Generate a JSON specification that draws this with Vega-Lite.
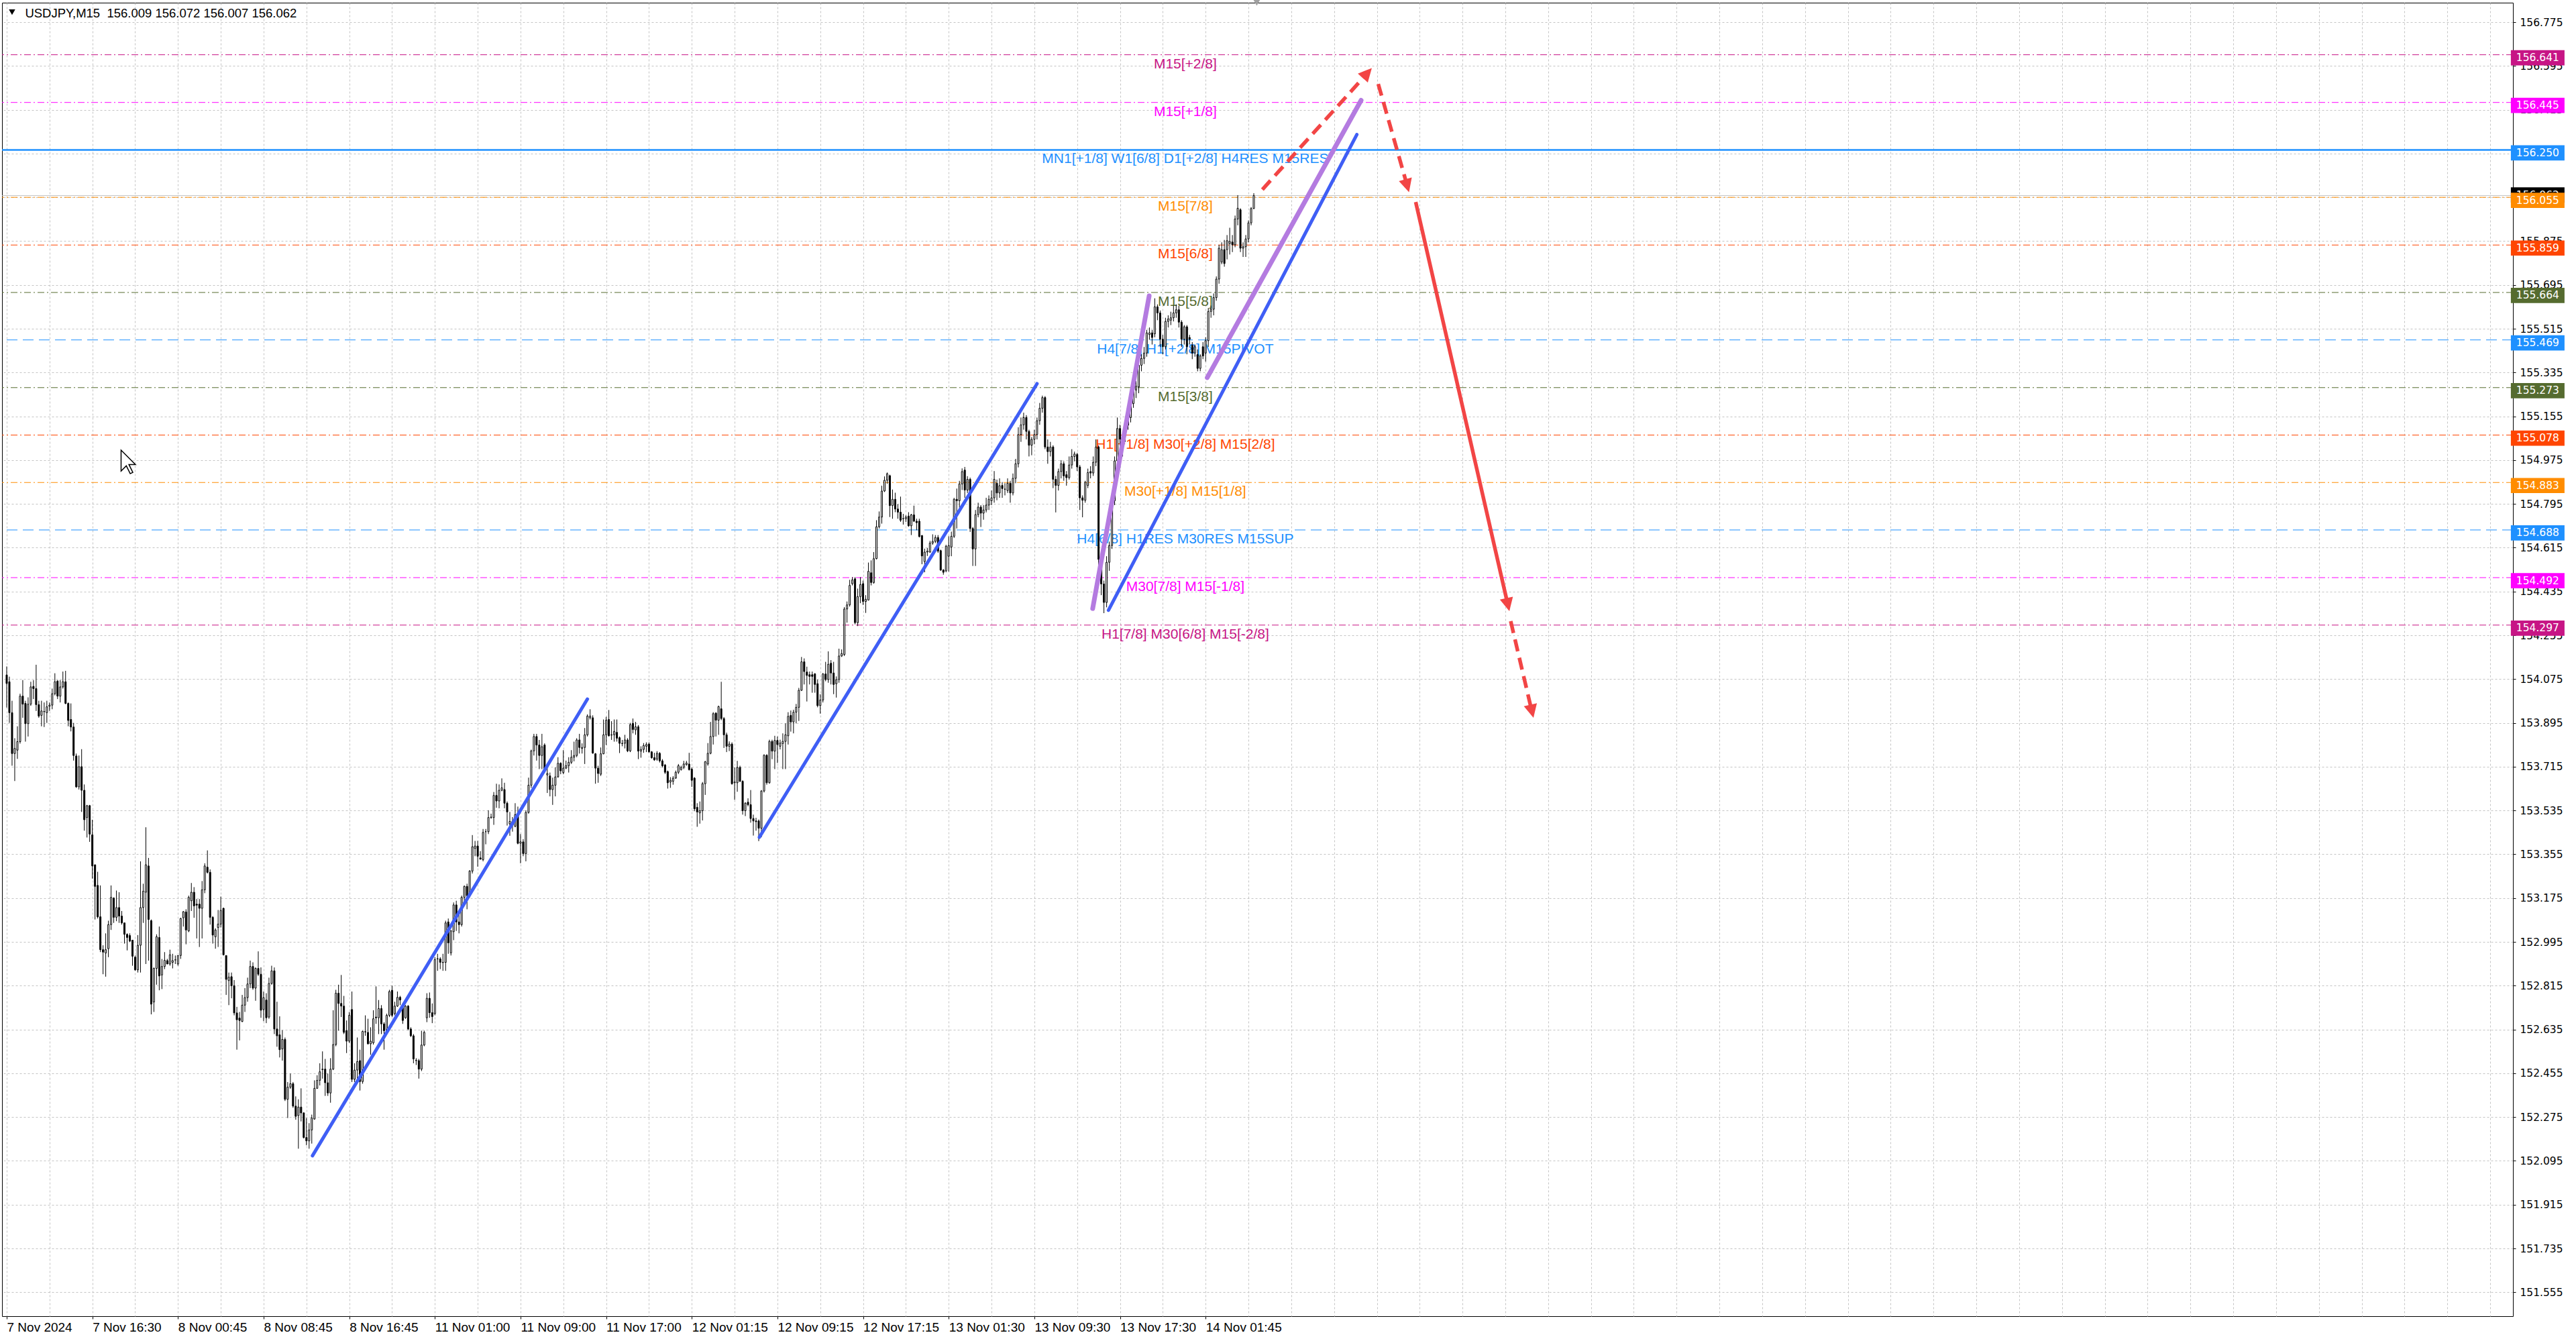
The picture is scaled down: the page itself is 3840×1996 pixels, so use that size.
{
"$schema": "https://vega.github.io/schema/vega-lite/v6.json",
"width": 3743, "height": 1958,
"autosize": {"type": "none"},
"padding": {"left": 3, "top": 4, "right": 94, "bottom": 34},
"background": "#ffffff",
"config": {"view": {"stroke": "#000000", "strokeWidth": 1}},
"datasets": {
"levels": [
{"p":156.641,"name":"M15[+2/8]"},
{"p":156.445,"name":"M15[+1/8]"},
{"p":156.25,"name":"MN1[+1/8] W1[6/8] D1[+2/8] H4RES M15RES"},
{"p":156.055,"name":"M15[7/8]"},
{"p":155.859,"name":"M15[6/8]"},
{"p":155.664,"name":"M15[5/8]"},
{"p":155.469,"name":"H4[7/8] H1[+2/8] M15PIVOT"},
{"p":155.273,"name":"M15[3/8]"},
{"p":155.078,"name":"H1[+1/8] M30[+2/8] M15[2/8]"},
{"p":154.883,"name":"M30[+1/8] M15[1/8]"},
{"p":154.688,"name":"H4[6/8] H1RES M30RES M15SUP"},
{"p":154.492,"name":"M30[7/8] M15[-1/8]"},
{"p":154.297,"name":"H1[7/8] M30[6/8] M15[-2/8]"}
],
"blue": [
{"id":"b1","i":114.25,"p":152.116},{"id":"b1","i":217,"p":153.993},
{"id":"b2","i":281.25,"p":153.425},{"id":"b2","i":385,"p":155.289},
{"id":"b3","i":411.7,"p":154.358},{"id":"b3","i":504.5,"p":156.313}
],
"purple": [
{"id":"u1","i":405.8,"p":154.365},{"id":"u1","i":426.9,"p":155.65},
{"id":"u2","i":448.6,"p":155.314},{"id":"u2","i":506.1,"p":156.454}
],
"reddash": [
{"id":"r1","i":469.2,"p":156.087},{"id":"r1","i":508.1,"p":156.561},
{"id":"r2","i":512.5,"p":156.521},{"id":"r2","i":523.2,"p":156.108},
{"id":"r4","i":562,"p":154.313},{"id":"r4","i":569.8,"p":153.948}
],
"redsolid": [
{"id":"r3","i":526.5,"p":156.036},{"id":"r3","i":560.8,"p":154.387}
],
"heads": [
{"id":"a1","i":510.1,"p":156.586},
{"id":"a2","i":524,"p":156.076},
{"id":"a3","i":561.5,"p":154.354},
{"id":"a4","i":570.5,"p":153.916}
],
"bars": [
{"i":0,"o":154.092,"h":154.127,"l":153.958,"c":154.057},
{"i":1,"o":154.064,"h":154.085,"l":153.895,"c":153.937},
{"i":2,"o":153.937,"h":153.986,"l":153.719,"c":153.769},
{"i":3,"o":153.769,"h":153.832,"l":153.656,"c":153.790},
{"i":4,"o":153.783,"h":153.881,"l":153.747,"c":153.818},
{"i":5,"o":153.818,"h":154.015,"l":153.810,"c":154.005},
{"i":6,"o":154.005,"h":154.071,"l":153.916,"c":153.972},
{"i":7,"o":153.975,"h":153.986,"l":153.818,"c":153.892},
{"i":8,"o":153.892,"h":154.000,"l":153.839,"c":153.972},
{"i":9,"o":153.972,"h":154.064,"l":153.965,"c":154.043},
{"i":10,"o":154.045,"h":154.071,"l":153.993,"c":154.036},
{"i":11,"o":154.036,"h":154.134,"l":153.944,"c":153.970},
{"i":12,"o":153.970,"h":153.986,"l":153.916,"c":153.923},
{"i":13,"o":153.926,"h":153.986,"l":153.881,"c":153.944},
{"i":14,"o":153.941,"h":153.979,"l":153.878,"c":153.942},
{"i":15,"o":153.937,"h":153.986,"l":153.895,"c":153.961},
{"i":16,"o":153.963,"h":153.979,"l":153.944,"c":153.968},
{"i":17,"o":153.968,"h":154.036,"l":153.951,"c":154.015},
{"i":18,"o":154.015,"h":154.099,"l":154.008,"c":154.064},
{"i":19,"o":154.067,"h":154.071,"l":153.993,"c":154.005},
{"i":20,"o":154.005,"h":154.071,"l":153.979,"c":154.043},
{"i":21,"o":154.043,"h":154.106,"l":154.036,"c":154.064},
{"i":22,"o":154.064,"h":154.109,"l":153.972,"c":153.975},
{"i":23,"o":153.975,"h":153.979,"l":153.881,"c":153.905},
{"i":24,"o":153.909,"h":153.975,"l":153.860,"c":153.878},
{"i":25,"o":153.878,"h":153.895,"l":153.740,"c":153.761},
{"i":26,"o":153.759,"h":153.769,"l":153.628,"c":153.632},
{"i":27,"o":153.632,"h":153.761,"l":153.621,"c":153.715},
{"i":28,"o":153.715,"h":153.787,"l":153.529,"c":153.618},
{"i":29,"o":153.618,"h":153.642,"l":153.452,"c":153.497},
{"i":30,"o":153.506,"h":153.558,"l":153.424,"c":153.555},
{"i":31,"o":153.555,"h":153.558,"l":153.406,"c":153.438},
{"i":32,"o":153.435,"h":153.497,"l":153.255,"c":153.307},
{"i":33,"o":153.312,"h":153.312,"l":153.087,"c":153.223},
{"i":34,"o":153.227,"h":153.283,"l":153.091,"c":153.098},
{"i":35,"o":153.098,"h":153.227,"l":152.953,"c":152.963},
{"i":36,"o":152.963,"h":152.981,"l":152.862,"c":152.953},
{"i":37,"o":152.949,"h":153.030,"l":152.852,"c":152.963},
{"i":38,"o":152.967,"h":153.082,"l":152.932,"c":153.066},
{"i":39,"o":153.066,"h":153.227,"l":153.044,"c":153.178},
{"i":40,"o":153.175,"h":153.178,"l":153.073,"c":153.096},
{"i":41,"o":153.096,"h":153.206,"l":153.080,"c":153.136},
{"i":42,"o":153.136,"h":153.199,"l":153.073,"c":153.101},
{"i":43,"o":153.101,"h":153.122,"l":153.066,"c":153.073},
{"i":44,"o":153.073,"h":153.073,"l":152.988,"c":153.026},
{"i":45,"o":153.026,"h":153.030,"l":152.960,"c":153.013},
{"i":46,"o":153.021,"h":153.030,"l":152.995,"c":152.998},
{"i":47,"o":153.002,"h":153.002,"l":152.897,"c":152.936},
{"i":48,"o":152.932,"h":152.939,"l":152.876,"c":152.880},
{"i":49,"o":152.880,"h":153.023,"l":152.869,"c":152.981},
{"i":50,"o":152.981,"h":153.326,"l":152.869,"c":153.136},
{"i":51,"o":153.136,"h":153.234,"l":153.073,"c":153.203},
{"i":52,"o":153.199,"h":153.466,"l":152.904,"c":153.312},
{"i":53,"o":153.307,"h":153.340,"l":152.918,"c":153.087},
{"i":54,"o":153.082,"h":153.087,"l":152.697,"c":152.739},
{"i":55,"o":152.748,"h":152.890,"l":152.707,"c":152.886},
{"i":56,"o":152.886,"h":153.026,"l":152.819,"c":153.016},
{"i":57,"o":153.013,"h":153.058,"l":152.796,"c":152.855},
{"i":58,"o":152.859,"h":152.925,"l":152.801,"c":152.894},
{"i":59,"o":152.894,"h":152.953,"l":152.883,"c":152.919},
{"i":60,"o":152.918,"h":152.925,"l":152.904,"c":152.904},
{"i":61,"o":152.904,"h":152.963,"l":152.897,"c":152.942},
{"i":62,"o":152.911,"h":152.946,"l":152.886,"c":152.918},
{"i":63,"o":152.921,"h":152.939,"l":152.904,"c":152.921},
{"i":64,"o":152.904,"h":152.939,"l":152.897,"c":152.939},
{"i":65,"o":152.939,"h":153.094,"l":152.925,"c":153.091},
{"i":66,"o":153.094,"h":153.122,"l":153.058,"c":153.119},
{"i":67,"o":153.118,"h":153.129,"l":152.985,"c":153.044},
{"i":68,"o":153.040,"h":153.185,"l":153.035,"c":153.178},
{"i":69,"o":153.164,"h":153.237,"l":153.122,"c":153.199},
{"i":70,"o":153.199,"h":153.220,"l":153.094,"c":153.143},
{"i":71,"o":153.150,"h":153.171,"l":153.009,"c":153.146},
{"i":72,"o":153.150,"h":153.171,"l":152.974,"c":153.133},
{"i":73,"o":153.133,"h":153.245,"l":153.009,"c":153.209},
{"i":74,"o":153.209,"h":153.318,"l":153.195,"c":153.307},
{"i":75,"o":153.302,"h":153.371,"l":153.276,"c":153.281},
{"i":76,"o":153.281,"h":153.293,"l":153.066,"c":153.096},
{"i":77,"o":153.096,"h":153.101,"l":152.988,"c":153.023},
{"i":78,"o":153.016,"h":153.051,"l":152.967,"c":153.044},
{"i":79,"o":153.054,"h":153.126,"l":152.974,"c":153.068},
{"i":80,"o":153.068,"h":153.181,"l":153.054,"c":153.124},
{"i":81,"o":153.133,"h":153.136,"l":152.939,"c":152.942},
{"i":82,"o":152.939,"h":152.939,"l":152.777,"c":152.841},
{"i":83,"o":152.836,"h":152.869,"l":152.735,"c":152.850},
{"i":84,"o":152.852,"h":152.869,"l":152.763,"c":152.815},
{"i":85,"o":152.815,"h":152.838,"l":152.693,"c":152.703},
{"i":86,"o":152.703,"h":152.728,"l":152.552,"c":152.675},
{"i":87,"o":152.682,"h":152.707,"l":152.590,"c":152.672},
{"i":88,"o":152.668,"h":152.777,"l":152.665,"c":152.735},
{"i":89,"o":152.735,"h":152.805,"l":152.707,"c":152.766},
{"i":90,"o":152.766,"h":152.848,"l":152.749,"c":152.822},
{"i":91,"o":152.822,"h":152.918,"l":152.805,"c":152.894},
{"i":92,"o":152.894,"h":152.911,"l":152.798,"c":152.805},
{"i":93,"o":152.805,"h":152.890,"l":152.753,"c":152.886},
{"i":94,"o":152.886,"h":152.956,"l":152.855,"c":152.862},
{"i":95,"o":152.862,"h":152.890,"l":152.683,"c":152.714},
{"i":96,"o":152.717,"h":152.791,"l":152.669,"c":152.766},
{"i":97,"o":152.756,"h":152.784,"l":152.661,"c":152.683},
{"i":98,"o":152.686,"h":152.848,"l":152.679,"c":152.824},
{"i":99,"o":152.824,"h":152.897,"l":152.819,"c":152.876},
{"i":100,"o":152.876,"h":152.890,"l":152.616,"c":152.637},
{"i":101,"o":152.637,"h":152.749,"l":152.564,"c":152.609},
{"i":102,"o":152.613,"h":152.689,"l":152.520,"c":152.552},
{"i":103,"o":152.555,"h":152.632,"l":152.507,"c":152.594},
{"i":104,"o":152.594,"h":152.602,"l":152.341,"c":152.348},
{"i":105,"o":152.348,"h":152.419,"l":152.271,"c":152.398},
{"i":106,"o":152.398,"h":152.454,"l":152.391,"c":152.412},
{"i":107,"o":152.412,"h":152.419,"l":152.313,"c":152.320},
{"i":108,"o":152.320,"h":152.360,"l":152.264,"c":152.278},
{"i":109,"o":152.281,"h":152.348,"l":152.145,"c":152.316},
{"i":110,"o":152.316,"h":152.393,"l":152.257,"c":152.292},
{"i":111,"o":152.292,"h":152.295,"l":152.187,"c":152.191},
{"i":112,"o":152.191,"h":152.271,"l":152.159,"c":152.177},
{"i":113,"o":152.177,"h":152.250,"l":152.145,"c":152.222},
{"i":114,"o":152.222,"h":152.285,"l":152.166,"c":152.271},
{"i":115,"o":152.267,"h":152.426,"l":152.264,"c":152.393},
{"i":116,"o":152.393,"h":152.447,"l":152.391,"c":152.426},
{"i":117,"o":152.426,"h":152.496,"l":152.405,"c":152.461},
{"i":118,"o":152.470,"h":152.545,"l":152.433,"c":152.472},
{"i":119,"o":152.472,"h":152.514,"l":152.362,"c":152.416},
{"i":120,"o":152.416,"h":152.454,"l":152.362,"c":152.374},
{"i":121,"o":152.374,"h":152.517,"l":152.334,"c":152.472},
{"i":122,"o":152.472,"h":152.714,"l":152.468,"c":152.573},
{"i":123,"o":152.573,"h":152.798,"l":152.566,"c":152.784},
{"i":124,"o":152.784,"h":152.819,"l":152.630,"c":152.742},
{"i":125,"o":152.742,"h":152.859,"l":152.686,"c":152.731},
{"i":126,"o":152.731,"h":152.773,"l":152.616,"c":152.623},
{"i":127,"o":152.630,"h":152.672,"l":152.538,"c":152.587},
{"i":128,"o":152.587,"h":152.707,"l":152.580,"c":152.693},
{"i":129,"o":152.717,"h":152.791,"l":152.419,"c":152.430},
{"i":130,"o":152.430,"h":152.496,"l":152.419,"c":152.468},
{"i":131,"o":152.468,"h":152.602,"l":152.433,"c":152.503},
{"i":132,"o":152.507,"h":152.552,"l":152.384,"c":152.421},
{"i":133,"o":152.421,"h":152.630,"l":152.412,"c":152.627},
{"i":134,"o":152.626,"h":152.693,"l":152.609,"c":152.625},
{"i":135,"o":152.623,"h":152.679,"l":152.573,"c":152.576},
{"i":136,"o":152.576,"h":152.644,"l":152.531,"c":152.587},
{"i":137,"o":152.580,"h":152.714,"l":152.573,"c":152.679},
{"i":138,"o":152.686,"h":152.812,"l":152.658,"c":152.683},
{"i":139,"o":152.683,"h":152.756,"l":152.616,"c":152.721},
{"i":140,"o":152.721,"h":152.735,"l":152.616,"c":152.658},
{"i":141,"o":152.658,"h":152.665,"l":152.552,"c":152.630},
{"i":142,"o":152.630,"h":152.700,"l":152.616,"c":152.693},
{"i":143,"o":152.693,"h":152.798,"l":152.686,"c":152.791},
{"i":144,"o":152.796,"h":152.815,"l":152.686,"c":152.693},
{"i":145,"o":152.700,"h":152.749,"l":152.693,"c":152.731},
{"i":146,"o":152.731,"h":152.791,"l":152.728,"c":152.767},
{"i":147,"o":152.767,"h":152.773,"l":152.735,"c":152.756},
{"i":148,"o":152.735,"h":152.742,"l":152.658,"c":152.672},
{"i":149,"o":152.683,"h":152.735,"l":152.679,"c":152.731},
{"i":150,"o":152.731,"h":152.735,"l":152.632,"c":152.637},
{"i":151,"o":152.637,"h":152.644,"l":152.604,"c":152.609},
{"i":152,"o":152.609,"h":152.616,"l":152.496,"c":152.514},
{"i":153,"o":152.508,"h":152.517,"l":152.489,"c":152.507},
{"i":154,"o":152.507,"h":152.514,"l":152.433,"c":152.472},
{"i":155,"o":152.472,"h":152.630,"l":152.464,"c":152.571},
{"i":156,"o":152.571,"h":152.630,"l":152.566,"c":152.623},
{"i":157,"o":152.683,"h":152.784,"l":152.665,"c":152.763},
{"i":158,"o":152.763,"h":152.787,"l":152.683,"c":152.704},
{"i":159,"o":152.704,"h":152.742,"l":152.661,"c":152.688},
{"i":160,"o":152.700,"h":152.932,"l":152.693,"c":152.922},
{"i":161,"o":152.925,"h":152.946,"l":152.876,"c":152.926},
{"i":162,"o":152.925,"h":152.932,"l":152.883,"c":152.911},
{"i":163,"o":152.911,"h":152.946,"l":152.876,"c":152.910},
{"i":164,"o":152.911,"h":153.082,"l":152.876,"c":153.073},
{"i":165,"o":153.077,"h":153.091,"l":152.946,"c":152.991},
{"i":166,"o":152.950,"h":153.044,"l":152.939,"c":153.040},
{"i":167,"o":153.037,"h":153.157,"l":153.002,"c":153.147},
{"i":168,"o":153.147,"h":153.164,"l":153.040,"c":153.077},
{"i":169,"o":153.077,"h":153.122,"l":153.030,"c":153.066},
{"i":170,"o":153.066,"h":153.185,"l":153.058,"c":153.178},
{"i":171,"o":153.178,"h":153.227,"l":153.150,"c":153.223},
{"i":172,"o":153.223,"h":153.234,"l":153.129,"c":153.185},
{"i":173,"o":153.185,"h":153.290,"l":153.178,"c":153.286},
{"i":174,"o":153.286,"h":153.434,"l":153.276,"c":153.386},
{"i":175,"o":153.379,"h":153.410,"l":153.347,"c":153.389},
{"i":176,"o":153.389,"h":153.410,"l":153.304,"c":153.347},
{"i":177,"o":153.340,"h":153.368,"l":153.333,"c":153.335},
{"i":178,"o":153.333,"h":153.459,"l":153.326,"c":153.445},
{"i":179,"o":153.448,"h":153.459,"l":153.396,"c":153.448},
{"i":180,"o":153.448,"h":153.536,"l":153.438,"c":153.506},
{"i":181,"o":153.506,"h":153.522,"l":153.501,"c":153.508},
{"i":182,"o":153.506,"h":153.611,"l":153.476,"c":153.597},
{"i":183,"o":153.597,"h":153.645,"l":153.546,"c":153.574},
{"i":184,"o":153.574,"h":153.642,"l":153.544,"c":153.618},
{"i":185,"o":153.618,"h":153.667,"l":153.614,"c":153.628},
{"i":186,"o":153.621,"h":153.649,"l":153.544,"c":153.565},
{"i":187,"o":153.565,"h":153.572,"l":153.473,"c":153.529},
{"i":188,"o":153.480,"h":153.529,"l":153.431,"c":153.490},
{"i":189,"o":153.490,"h":153.508,"l":153.448,"c":153.480},
{"i":190,"o":153.470,"h":153.565,"l":153.466,"c":153.518},
{"i":191,"o":153.513,"h":153.551,"l":153.396,"c":153.400},
{"i":192,"o":153.400,"h":153.438,"l":153.318,"c":153.406},
{"i":193,"o":153.406,"h":153.417,"l":153.347,"c":153.358},
{"i":194,"o":153.358,"h":153.536,"l":153.326,"c":153.527},
{"i":195,"o":153.527,"h":153.670,"l":153.522,"c":153.639},
{"i":196,"o":153.639,"h":153.785,"l":153.628,"c":153.780},
{"i":197,"o":153.780,"h":153.850,"l":153.761,"c":153.839},
{"i":198,"o":153.839,"h":153.850,"l":153.740,"c":153.804},
{"i":199,"o":153.804,"h":153.825,"l":153.705,"c":153.761},
{"i":200,"o":153.761,"h":153.850,"l":153.705,"c":153.797},
{"i":201,"o":153.804,"h":153.811,"l":153.691,"c":153.698},
{"i":202,"o":153.681,"h":153.719,"l":153.607,"c":153.687},
{"i":203,"o":153.677,"h":153.691,"l":153.593,"c":153.621},
{"i":204,"o":153.621,"h":153.670,"l":153.558,"c":153.639},
{"i":205,"o":153.639,"h":153.712,"l":153.593,"c":153.673},
{"i":206,"o":153.673,"h":153.754,"l":153.670,"c":153.729},
{"i":207,"o":153.729,"h":153.733,"l":153.684,"c":153.698},
{"i":208,"o":153.691,"h":153.783,"l":153.684,"c":153.709},
{"i":209,"o":153.709,"h":153.740,"l":153.705,"c":153.719},
{"i":210,"o":153.719,"h":153.754,"l":153.691,"c":153.733},
{"i":211,"o":153.733,"h":153.783,"l":153.726,"c":153.754},
{"i":212,"o":153.754,"h":153.818,"l":153.737,"c":153.761},
{"i":213,"o":153.761,"h":153.832,"l":153.754,"c":153.825},
{"i":214,"o":153.825,"h":153.850,"l":153.769,"c":153.794},
{"i":215,"o":153.790,"h":153.811,"l":153.769,"c":153.794},
{"i":216,"o":153.794,"h":153.874,"l":153.726,"c":153.846},
{"i":217,"o":153.846,"h":153.930,"l":153.839,"c":153.923},
{"i":218,"o":153.916,"h":153.951,"l":153.909,"c":153.923},
{"i":219,"o":153.916,"h":153.926,"l":153.768,"c":153.771},
{"i":220,"o":153.768,"h":153.771,"l":153.645,"c":153.709},
{"i":221,"o":153.709,"h":153.719,"l":153.649,"c":153.687},
{"i":222,"o":153.684,"h":153.794,"l":153.677,"c":153.768},
{"i":223,"o":153.768,"h":153.909,"l":153.766,"c":153.846},
{"i":224,"o":153.846,"h":153.920,"l":153.804,"c":153.906},
{"i":225,"o":153.909,"h":153.948,"l":153.839,"c":153.842},
{"i":226,"o":153.846,"h":153.902,"l":153.825,"c":153.845},
{"i":227,"o":153.846,"h":153.909,"l":153.818,"c":153.860},
{"i":228,"o":153.856,"h":153.909,"l":153.818,"c":153.832},
{"i":229,"o":153.834,"h":153.839,"l":153.771,"c":153.811},
{"i":230,"o":153.811,"h":153.825,"l":153.799,"c":153.810},
{"i":231,"o":153.811,"h":153.846,"l":153.790,"c":153.825},
{"i":232,"o":153.825,"h":153.832,"l":153.775,"c":153.780},
{"i":233,"o":153.780,"h":153.895,"l":153.775,"c":153.888},
{"i":234,"o":153.893,"h":153.913,"l":153.852,"c":153.868},
{"i":235,"o":153.866,"h":153.899,"l":153.846,"c":153.879},
{"i":236,"o":153.879,"h":153.886,"l":153.746,"c":153.779},
{"i":237,"o":153.779,"h":153.799,"l":153.752,"c":153.786},
{"i":238,"o":153.786,"h":153.812,"l":153.772,"c":153.802},
{"i":239,"o":153.799,"h":153.815,"l":153.775,"c":153.806},
{"i":240,"o":153.808,"h":153.815,"l":153.772,"c":153.776},
{"i":241,"o":153.776,"h":153.779,"l":153.748,"c":153.752},
{"i":242,"o":153.752,"h":153.772,"l":153.739,"c":153.743},
{"i":243,"o":153.746,"h":153.779,"l":153.739,"c":153.770},
{"i":244,"o":153.770,"h":153.775,"l":153.732,"c":153.739},
{"i":245,"o":153.739,"h":153.746,"l":153.712,"c":153.719},
{"i":246,"o":153.722,"h":153.726,"l":153.685,"c":153.692},
{"i":247,"o":153.695,"h":153.699,"l":153.625,"c":153.649},
{"i":248,"o":153.652,"h":153.672,"l":153.628,"c":153.659},
{"i":249,"o":153.655,"h":153.676,"l":153.641,"c":153.668},
{"i":250,"o":153.668,"h":153.699,"l":153.665,"c":153.692},
{"i":251,"o":153.692,"h":153.726,"l":153.685,"c":153.719},
{"i":252,"o":153.703,"h":153.719,"l":153.699,"c":153.712},
{"i":253,"o":153.712,"h":153.739,"l":153.705,"c":153.726},
{"i":254,"o":153.724,"h":153.739,"l":153.719,"c":153.730},
{"i":255,"o":153.726,"h":153.772,"l":153.699,"c":153.703},
{"i":256,"o":153.705,"h":153.712,"l":153.632,"c":153.659},
{"i":257,"o":153.668,"h":153.672,"l":153.532,"c":153.542},
{"i":258,"o":153.548,"h":153.565,"l":153.468,"c":153.529},
{"i":259,"o":153.525,"h":153.572,"l":153.481,"c":153.534},
{"i":260,"o":153.534,"h":153.652,"l":153.494,"c":153.645},
{"i":261,"o":153.645,"h":153.739,"l":153.599,"c":153.735},
{"i":262,"o":153.726,"h":153.812,"l":153.719,"c":153.770},
{"i":263,"o":153.770,"h":153.899,"l":153.766,"c":153.839},
{"i":264,"o":153.839,"h":153.939,"l":153.806,"c":153.933},
{"i":265,"o":153.935,"h":153.939,"l":153.839,"c":153.906},
{"i":266,"o":153.906,"h":153.966,"l":153.846,"c":153.962},
{"i":267,"o":153.953,"h":154.064,"l":153.906,"c":153.913},
{"i":268,"o":153.913,"h":153.919,"l":153.792,"c":153.846},
{"i":269,"o":153.846,"h":153.855,"l":153.775,"c":153.799},
{"i":270,"o":153.799,"h":153.819,"l":153.779,"c":153.808},
{"i":271,"o":153.808,"h":153.815,"l":153.641,"c":153.645},
{"i":272,"o":153.649,"h":153.712,"l":153.579,"c":153.652},
{"i":273,"o":153.649,"h":153.739,"l":153.612,"c":153.712},
{"i":274,"o":153.712,"h":153.719,"l":153.652,"c":153.655},
{"i":275,"o":153.655,"h":153.659,"l":153.518,"c":153.534},
{"i":276,"o":153.534,"h":153.569,"l":153.512,"c":153.565},
{"i":277,"o":153.569,"h":153.585,"l":153.552,"c":153.559},
{"i":278,"o":153.559,"h":153.619,"l":153.485,"c":153.502},
{"i":279,"o":153.502,"h":153.518,"l":153.432,"c":153.492},
{"i":280,"o":153.492,"h":153.505,"l":153.452,"c":153.489},
{"i":281,"o":153.492,"h":153.498,"l":153.409,"c":153.462},
{"i":282,"o":153.462,"h":153.619,"l":153.425,"c":153.615},
{"i":283,"o":153.615,"h":153.766,"l":153.609,"c":153.762},
{"i":284,"o":153.762,"h":153.766,"l":153.641,"c":153.649},
{"i":285,"o":153.649,"h":153.826,"l":153.645,"c":153.819},
{"i":286,"o":153.819,"h":153.826,"l":153.746,"c":153.779},
{"i":287,"o":153.779,"h":153.842,"l":153.705,"c":153.823},
{"i":288,"o":153.823,"h":153.839,"l":153.730,"c":153.806},
{"i":289,"o":153.799,"h":153.826,"l":153.786,"c":153.812},
{"i":290,"o":153.810,"h":153.852,"l":153.705,"c":153.819},
{"i":291,"o":153.819,"h":153.893,"l":153.705,"c":153.846},
{"i":292,"o":153.842,"h":153.939,"l":153.806,"c":153.922},
{"i":293,"o":153.926,"h":153.946,"l":153.859,"c":153.899},
{"i":294,"o":153.899,"h":153.949,"l":153.852,"c":153.939},
{"i":295,"o":153.939,"h":153.973,"l":153.893,"c":153.959},
{"i":296,"o":153.959,"h":154.039,"l":153.903,"c":154.029},
{"i":297,"o":154.029,"h":154.166,"l":154.026,"c":154.146},
{"i":298,"o":154.146,"h":154.160,"l":154.053,"c":154.106},
{"i":299,"o":154.104,"h":154.126,"l":153.983,"c":154.090},
{"i":300,"o":154.093,"h":154.106,"l":154.053,"c":154.086},
{"i":301,"o":154.093,"h":154.106,"l":154.019,"c":154.086},
{"i":302,"o":154.096,"h":154.100,"l":154.019,"c":154.053},
{"i":303,"o":154.056,"h":154.073,"l":153.959,"c":153.966},
{"i":304,"o":153.966,"h":154.013,"l":153.933,"c":153.989},
{"i":305,"o":153.989,"h":154.100,"l":153.979,"c":154.096},
{"i":306,"o":154.096,"h":154.146,"l":154.066,"c":154.073},
{"i":307,"o":154.073,"h":154.189,"l":154.060,"c":154.136},
{"i":308,"o":154.140,"h":154.153,"l":154.053,"c":154.100},
{"i":309,"o":154.100,"h":154.146,"l":154.013,"c":154.053},
{"i":310,"o":154.056,"h":154.086,"l":153.999,"c":154.073},
{"i":311,"o":154.073,"h":154.200,"l":154.060,"c":154.170},
{"i":312,"o":154.170,"h":154.197,"l":154.166,"c":154.180},
{"i":313,"o":154.176,"h":154.371,"l":154.170,"c":154.363},
{"i":314,"o":154.363,"h":154.394,"l":154.307,"c":154.380},
{"i":315,"o":154.380,"h":154.483,"l":154.373,"c":154.460},
{"i":316,"o":154.467,"h":154.494,"l":154.460,"c":154.483},
{"i":317,"o":154.487,"h":154.494,"l":154.300,"c":154.307},
{"i":318,"o":154.307,"h":154.447,"l":154.293,"c":154.414},
{"i":319,"o":154.414,"h":154.494,"l":154.387,"c":154.464},
{"i":320,"o":154.467,"h":154.480,"l":154.380,"c":154.394},
{"i":321,"o":154.394,"h":154.420,"l":154.347,"c":154.403},
{"i":322,"o":154.400,"h":154.554,"l":154.398,"c":154.518},
{"i":323,"o":154.512,"h":154.563,"l":154.460,"c":154.472},
{"i":324,"o":154.472,"h":154.597,"l":154.467,"c":154.570},
{"i":325,"o":154.570,"h":154.728,"l":154.567,"c":154.701},
{"i":326,"o":154.701,"h":154.764,"l":154.694,"c":154.741},
{"i":327,"o":154.741,"h":154.870,"l":154.714,"c":154.848},
{"i":328,"o":154.848,"h":154.908,"l":154.844,"c":154.892},
{"i":329,"o":154.892,"h":154.924,"l":154.878,"c":154.919},
{"i":330,"o":154.911,"h":154.915,"l":154.741,"c":154.788},
{"i":331,"o":154.788,"h":154.854,"l":154.734,"c":154.814},
{"i":332,"o":154.814,"h":154.841,"l":154.761,"c":154.774},
{"i":333,"o":154.774,"h":154.794,"l":154.734,"c":154.761},
{"i":334,"o":154.761,"h":154.825,"l":154.721,"c":154.728},
{"i":335,"o":154.735,"h":154.754,"l":154.710,"c":154.734},
{"i":336,"o":154.734,"h":154.748,"l":154.721,"c":154.741},
{"i":337,"o":154.745,"h":154.761,"l":154.701,"c":154.705},
{"i":338,"o":154.705,"h":154.754,"l":154.667,"c":154.750},
{"i":339,"o":154.750,"h":154.788,"l":154.721,"c":154.724},
{"i":340,"o":154.724,"h":154.734,"l":154.687,"c":154.718},
{"i":341,"o":154.724,"h":154.734,"l":154.657,"c":154.661},
{"i":342,"o":154.665,"h":154.667,"l":154.547,"c":154.581},
{"i":343,"o":154.558,"h":154.611,"l":154.514,"c":154.597},
{"i":344,"o":154.597,"h":154.614,"l":154.581,"c":154.601},
{"i":345,"o":154.597,"h":154.643,"l":154.594,"c":154.634},
{"i":346,"o":154.634,"h":154.670,"l":154.627,"c":154.641},
{"i":347,"o":154.641,"h":154.667,"l":154.634,"c":154.657},
{"i":348,"o":154.657,"h":154.667,"l":154.594,"c":154.601},
{"i":349,"o":154.603,"h":154.607,"l":154.520,"c":154.523},
{"i":350,"o":154.523,"h":154.527,"l":154.504,"c":154.514},
{"i":351,"o":154.520,"h":154.627,"l":154.514,"c":154.621},
{"i":352,"o":154.580,"h":154.662,"l":154.517,"c":154.624},
{"i":353,"o":154.618,"h":154.681,"l":154.580,"c":154.662},
{"i":354,"o":154.662,"h":154.820,"l":154.655,"c":154.814},
{"i":355,"o":154.814,"h":154.858,"l":154.694,"c":154.808},
{"i":356,"o":154.808,"h":154.890,"l":154.780,"c":154.877},
{"i":357,"o":154.877,"h":154.941,"l":154.852,"c":154.928},
{"i":358,"o":154.934,"h":154.947,"l":154.820,"c":154.852},
{"i":359,"o":154.852,"h":154.909,"l":154.840,"c":154.896},
{"i":360,"o":154.896,"h":154.903,"l":154.680,"c":154.694},
{"i":361,"o":154.694,"h":154.700,"l":154.540,"c":154.610},
{"i":362,"o":154.610,"h":154.770,"l":154.540,"c":154.751},
{"i":363,"o":154.751,"h":154.800,"l":154.740,"c":154.782},
{"i":364,"o":154.782,"h":154.790,"l":154.700,"c":154.757},
{"i":365,"o":154.757,"h":154.790,"l":154.730,"c":154.770},
{"i":366,"o":154.770,"h":154.820,"l":154.760,"c":154.790},
{"i":367,"o":154.790,"h":154.830,"l":154.770,"c":154.814},
{"i":368,"o":154.808,"h":154.850,"l":154.790,"c":154.820},
{"i":369,"o":154.820,"h":154.930,"l":154.800,"c":154.896},
{"i":370,"o":154.880,"h":154.895,"l":154.810,"c":154.840},
{"i":371,"o":154.840,"h":154.900,"l":154.820,"c":154.870},
{"i":372,"o":154.871,"h":154.885,"l":154.820,"c":154.858},
{"i":373,"o":154.855,"h":154.880,"l":154.830,"c":154.856},
{"i":374,"o":154.850,"h":154.900,"l":154.840,"c":154.880},
{"i":375,"o":154.880,"h":154.890,"l":154.800,"c":154.840},
{"i":376,"o":154.840,"h":154.920,"l":154.830,"c":154.900},
{"i":377,"o":154.900,"h":154.980,"l":154.880,"c":154.960},
{"i":378,"o":154.960,"h":155.110,"l":154.945,"c":155.080},
{"i":379,"o":155.080,"h":155.150,"l":155.050,"c":155.120},
{"i":380,"o":155.120,"h":155.170,"l":155.100,"c":155.150},
{"i":381,"o":155.150,"h":155.160,"l":155.060,"c":155.093},
{"i":382,"o":155.093,"h":155.100,"l":154.990,"c":155.036},
{"i":383,"o":155.036,"h":155.070,"l":154.995,"c":155.060},
{"i":384,"o":155.060,"h":155.100,"l":155.040,"c":155.080},
{"i":385,"o":155.080,"h":155.150,"l":155.060,"c":155.137},
{"i":386,"o":155.137,"h":155.210,"l":155.120,"c":155.188},
{"i":387,"o":155.188,"h":155.240,"l":155.170,"c":155.232},
{"i":388,"o":155.232,"h":155.238,"l":155.020,"c":155.029},
{"i":389,"o":155.029,"h":155.060,"l":154.960,"c":155.010},
{"i":390,"o":155.010,"h":155.050,"l":154.990,"c":155.029},
{"i":391,"o":155.029,"h":155.036,"l":154.860,"c":154.896},
{"i":392,"o":154.896,"h":154.910,"l":154.760,"c":154.871},
{"i":393,"o":154.871,"h":154.940,"l":154.850,"c":154.928},
{"i":394,"o":154.928,"h":154.975,"l":154.900,"c":154.960},
{"i":395,"o":154.960,"h":154.970,"l":154.890,"c":154.910},
{"i":396,"o":154.915,"h":154.930,"l":154.870,"c":154.903},
{"i":397,"o":154.903,"h":154.990,"l":154.895,"c":154.955},
{"i":398,"o":154.955,"h":155.020,"l":154.940,"c":154.990},
{"i":399,"o":154.990,"h":155.010,"l":154.970,"c":155.000},
{"i":400,"o":154.998,"h":155.005,"l":154.930,"c":154.947},
{"i":401,"o":154.947,"h":154.955,"l":154.770,"c":154.820},
{"i":402,"o":154.820,"h":154.830,"l":154.740,"c":154.810},
{"i":403,"o":154.810,"h":154.890,"l":154.800,"c":154.884},
{"i":404,"o":154.871,"h":154.940,"l":154.860,"c":154.924},
{"i":405,"o":154.928,"h":154.950,"l":154.900,"c":154.922},
{"i":406,"o":154.922,"h":154.990,"l":154.910,"c":154.966},
{"i":407,"o":154.966,"h":155.060,"l":154.950,"c":155.029},
{"i":408,"o":155.029,"h":155.035,"l":154.500,"c":154.567},
{"i":409,"o":154.567,"h":154.580,"l":154.420,"c":154.466},
{"i":410,"o":154.466,"h":154.480,"l":154.346,"c":154.390},
{"i":411,"o":154.390,"h":154.580,"l":154.370,"c":154.555},
{"i":412,"o":154.555,"h":154.640,"l":154.520,"c":154.624},
{"i":413,"o":154.624,"h":154.820,"l":154.610,"c":154.808},
{"i":414,"o":154.808,"h":154.990,"l":154.790,"c":154.972},
{"i":415,"o":154.972,"h":155.150,"l":154.950,"c":155.105},
{"i":416,"o":155.105,"h":155.120,"l":155.030,"c":155.061},
{"i":417,"o":155.030,"h":155.090,"l":154.990,"c":155.074},
{"i":418,"o":155.074,"h":155.130,"l":155.050,"c":155.118},
{"i":419,"o":155.118,"h":155.180,"l":155.100,"c":155.162},
{"i":420,"o":155.150,"h":155.230,"l":155.130,"c":155.207},
{"i":421,"o":155.207,"h":155.280,"l":155.190,"c":155.263},
{"i":422,"o":155.263,"h":155.300,"l":155.230,"c":155.279},
{"i":423,"o":155.276,"h":155.380,"l":155.250,"c":155.365},
{"i":424,"o":155.365,"h":155.410,"l":155.340,"c":155.393},
{"i":425,"o":155.393,"h":155.440,"l":155.370,"c":155.415},
{"i":426,"o":155.415,"h":155.510,"l":155.400,"c":155.498},
{"i":427,"o":155.491,"h":155.520,"l":155.470,"c":155.498},
{"i":428,"o":155.498,"h":155.510,"l":155.450,"c":155.479},
{"i":429,"o":155.494,"h":155.640,"l":155.480,"c":155.605},
{"i":430,"o":155.605,"h":155.615,"l":155.550,"c":155.580},
{"i":431,"o":155.580,"h":155.590,"l":155.440,"c":155.472},
{"i":432,"o":155.472,"h":155.490,"l":155.410,"c":155.441},
{"i":433,"o":155.441,"h":155.560,"l":155.430,"c":155.545},
{"i":434,"o":155.545,"h":155.570,"l":155.520,"c":155.555},
{"i":435,"o":155.550,"h":155.585,"l":155.530,"c":155.560},
{"i":436,"o":155.560,"h":155.610,"l":155.545,"c":155.580},
{"i":437,"o":155.580,"h":155.615,"l":155.560,"c":155.593},
{"i":438,"o":155.593,"h":155.610,"l":155.520,"c":155.542},
{"i":439,"o":155.542,"h":155.550,"l":155.440,"c":155.472},
{"i":440,"o":155.472,"h":155.530,"l":155.450,"c":155.523},
{"i":441,"o":155.523,"h":155.530,"l":155.410,"c":155.441},
{"i":442,"o":155.479,"h":155.490,"l":155.450,"c":155.472},
{"i":443,"o":155.447,"h":155.460,"l":155.390,"c":155.415},
{"i":444,"o":155.415,"h":155.450,"l":155.400,"c":155.441},
{"i":445,"o":155.409,"h":155.430,"l":155.340,"c":155.352},
{"i":446,"o":155.352,"h":155.410,"l":155.340,"c":155.403},
{"i":447,"o":155.441,"h":155.460,"l":155.390,"c":155.403},
{"i":448,"o":155.415,"h":155.480,"l":155.380,"c":155.466},
{"i":449,"o":155.466,"h":155.600,"l":155.440,"c":155.586},
{"i":450,"o":155.586,"h":155.610,"l":155.560,"c":155.595},
{"i":451,"o":155.595,"h":155.660,"l":155.570,"c":155.643},
{"i":452,"o":155.643,"h":155.730,"l":155.630,"c":155.719},
{"i":453,"o":155.719,"h":155.860,"l":155.700,"c":155.846},
{"i":454,"o":155.789,"h":155.870,"l":155.780,"c":155.840},
{"i":455,"o":155.840,"h":155.880,"l":155.770,"c":155.783},
{"i":456,"o":155.840,"h":155.900,"l":155.800,"c":155.877},
{"i":457,"o":155.865,"h":155.930,"l":155.820,"c":155.874},
{"i":458,"o":155.871,"h":155.900,"l":155.830,"c":155.860},
{"i":459,"o":155.860,"h":155.980,"l":155.850,"c":155.966},
{"i":460,"o":155.966,"h":156.064,"l":155.940,"c":156.010},
{"i":461,"o":156.004,"h":156.010,"l":155.830,"c":155.846},
{"i":462,"o":155.846,"h":155.870,"l":155.810,"c":155.852},
{"i":463,"o":155.852,"h":155.900,"l":155.810,"c":155.884},
{"i":464,"o":155.884,"h":155.960,"l":155.870,"c":155.950},
{"i":465,"o":155.950,"h":156.015,"l":155.940,"c":156.009},
{"i":466,"o":156.009,"h":156.072,"l":156.007,"c":156.062}
]
},
"layer": [
{
"data": {"name": "levels"},
"mark": {"type": "rule"},
"encoding": {
"y": {"field": "p", "type": "quantitative"},
"color": {"field": "name", "type": "nominal", "legend": null,
"scale": {"domain": ["M15[+2/8]","M15[+1/8]","MN1[+1/8] W1[6/8] D1[+2/8] H4RES M15RES","M15[7/8]","M15[6/8]","M15[5/8]","H4[7/8] H1[+2/8] M15PIVOT","M15[3/8]","H1[+1/8] M30[+2/8] M15[2/8]","M30[+1/8] M15[1/8]","H4[6/8] H1RES M30RES M15SUP","M30[7/8] M15[-1/8]","H1[7/8] M30[6/8] M15[-2/8]"],
"range": ["#C71585","#FF00FF","#1E90FF","#FF8C00","#FF4500","#556B2F","#1E90FF","#556B2F","#FF4500","#FF8C00","#1E90FF","#FF00FF","#C71585"]}},
"strokeDash": {"field": "name", "type": "nominal", "legend": null,
"scale": {"domain": ["M15[+2/8]","M15[+1/8]","MN1[+1/8] W1[6/8] D1[+2/8] H4RES M15RES","M15[7/8]","M15[6/8]","M15[5/8]","H4[7/8] H1[+2/8] M15PIVOT","M15[3/8]","H1[+1/8] M30[+2/8] M15[2/8]","M30[+1/8] M15[1/8]","H4[6/8] H1RES M30RES M15SUP","M30[7/8] M15[-1/8]","H1[7/8] M30[6/8] M15[-2/8]"],
"range": [[10,4,2,4],[10,4,2,4],[1,0],[10,4,2,4],[10,4,2,4],[10,4,2,4],[16,8],[10,4,2,4],[10,4,2,4],[10,4,2,4],[16,8],[10,4,2,4],[10,4,2,4]]}},
"strokeWidth": {"condition": {"test": "datum.p === 156.25", "value": 2.5}, "value": 1}
}
},
{
"data": {"name": "levels"},
"mark": {"type": "text", "align": "center", "baseline": "top", "dy": 3, "font": "Liberation Sans", "fontSize": 21},
"encoding": {
"x": {"datum": 440.4},
"y": {"field": "p", "type": "quantitative"},
"text": {"field": "name"},
"color": {"field": "name", "type": "nominal", "legend": null}
}
},
{
"data": {"values": [{"p": 156.062}]},
"mark": {"type": "rule", "color": "#C0C0C0", "strokeWidth": 1},
"encoding": {"y": {"field": "p", "type": "quantitative"}}
},
{
"data": {"name": "bars"},
"mark": {"type": "rule", "color": "#000000", "strokeWidth": 1},
"encoding": {
"x": {"field": "i", "type": "quantitative",
"scale": {"domain": [-0.5, 935.25], "nice": false, "zero": false},
"axis": {"title": null,
"values": [0,16,32,48,64,80,96,112,128,144,160,176,192,208,224,240,256,272,288,304,320,336,352,368,384,400,416,432,448,464,480,496,512,528,544,560,576,592,608,624,640,656,672,688,704,720,736,752,768,784,800,816,832,848,864,880,896,912,928],
"labelExpr": "datum.value % 32 === 0 && datum.value <= 448 ? ['7 Nov 2024','7 Nov 16:30','8 Nov 00:45','8 Nov 08:45','8 Nov 16:45','11 Nov 01:00','11 Nov 09:00','11 Nov 17:00','12 Nov 01:15','12 Nov 09:15','12 Nov 17:15','13 Nov 01:30','13 Nov 09:30','13 Nov 17:30','14 Nov 01:45'][datum.value / 32] : ''",
"labelAlign": "left", "labelBaseline": "top", "labelFont": "Liberation Sans", "labelFontSize": 19, "labelColor": "#000000",
"labelPadding": 3, "labelOverlap": false, "labelFlush": false, "labelBound": false,
"tickSize": 4, "tickColor": {"condition": {"test": "datum.value % 32 === 0 && datum.value <= 448", "value": "#000000"}, "value": "rgba(0,0,0,0)"},
"domain": false, "grid": true, "gridColor": "#C4C4C4", "gridDash": [3,3], "gridWidth": 1}},
"y": {"field": "l", "type": "quantitative",
"scale": {"domain": [151.4566, 156.855], "nice": false, "zero": false},
"axis": {"title": null, "orient": "right",
"values": [156.775,156.595,156.415,156.235,156.055,155.875,155.695,155.515,155.335,155.155,154.975,154.795,154.615,154.435,154.255,154.075,153.895,153.715,153.535,153.355,153.175,152.995,152.815,152.635,152.455,152.275,152.095,151.915,151.735,151.555],
"format": ".3f", "labelFont": "DejaVu Sans", "labelFontSize": 15.5, "labelColor": "#000000", "labelPadding": 6,
"labelOverlap": false, "labelFlush": false, "labelBound": false,
"tickSize": 4, "tickColor": "#000000", "domain": false,
"grid": true, "gridColor": "#C4C4C4", "gridDash": [3,3], "gridWidth": 1}},
"y2": {"field": "h"}
}
},
{
"data": {"name": "bars"},
"mark": {"type": "bar", "width": 2, "stroke": "#000000", "strokeWidth": 1},
"encoding": {
"x": {"field": "i", "type": "quantitative"},
"y": {"field": "o", "type": "quantitative"},
"y2": {"field": "c"},
"fill": {"condition": {"test": "datum.c >= datum.o", "value": "#ffffff"}, "value": "#000000"}
}
},
{
"data": {"name": "blue"},
"mark": {"type": "line", "color": "#3F5EF5", "strokeWidth": 5, "strokeCap": "round"},
"encoding": {"x": {"field": "i", "type": "quantitative"}, "y": {"field": "p", "type": "quantitative"}, "detail": {"field": "id"}}
},
{
"data": {"name": "purple"},
"mark": {"type": "line", "color": "#B47BE0", "strokeWidth": 7, "strokeCap": "round"},
"encoding": {"x": {"field": "i", "type": "quantitative"}, "y": {"field": "p", "type": "quantitative"}, "detail": {"field": "id"}}
},
{
"data": {"name": "reddash"},
"mark": {"type": "line", "color": "#F24545", "strokeWidth": 5.5, "strokeDash": [18,10], "strokeCap": "butt"},
"encoding": {"x": {"field": "i", "type": "quantitative"}, "y": {"field": "p", "type": "quantitative"}, "detail": {"field": "id"}}
},
{
"data": {"name": "redsolid"},
"mark": {"type": "line", "color": "#F24545", "strokeWidth": 5.5, "strokeCap": "butt"},
"encoding": {"x": {"field": "i", "type": "quantitative"}, "y": {"field": "p", "type": "quantitative"}, "detail": {"field": "id"}}
},
{
"data": {"name": "heads"},
"transform": [{"filter": "datum.id === 'a1'"}],
"mark": {"type": "point", "shape": "M0,0L0.5,1L-0.5,1Z", "size": 1600, "filled": true, "color": "#F24545", "opacity": 1, "strokeWidth": 0, "angle": 42.1},
"encoding": {"x": {"field": "i", "type": "quantitative"}, "y": {"field": "p", "type": "quantitative"}}
},
{
"data": {"name": "heads"},
"transform": [{"filter": "datum.id === 'a2'"}],
"mark": {"type": "point", "shape": "M0,0L0.5,1L-0.5,1Z", "size": 1600, "filled": true, "color": "#F24545", "opacity": 1, "strokeWidth": 0, "angle": 164.1},
"encoding": {"x": {"field": "i", "type": "quantitative"}, "y": {"field": "p", "type": "quantitative"}}
},
{
"data": {"name": "heads"},
"transform": [{"filter": "datum.id === 'a3'"}],
"mark": {"type": "point", "shape": "M0,0L0.5,1L-0.5,1Z", "size": 1600, "filled": true, "color": "#F24545", "opacity": 1, "strokeWidth": 0, "angle": 167.1},
"encoding": {"x": {"field": "i", "type": "quantitative"}, "y": {"field": "p", "type": "quantitative"}}
},
{
"data": {"name": "heads"},
"transform": [{"filter": "datum.id === 'a4'"}],
"mark": {"type": "point", "shape": "M0,0L0.5,1L-0.5,1Z", "size": 1600, "filled": true, "color": "#F24545", "opacity": 1, "strokeWidth": 0, "angle": 166.7},
"encoding": {"x": {"field": "i", "type": "quantitative"}, "y": {"field": "p", "type": "quantitative"}}
},
{
"data": {"values": [{"p": 156.062}]},
"mark": {"type": "point", "shape": "M-1,-0.284H1V0.284H-1Z", "size": 6400, "filled": true, "color": "#000000", "opacity": 1, "strokeWidth": 0, "yOffset": -1},
"encoding": {"x": {"datum": 945.75}, "y": {"field": "p", "type": "quantitative"}}
},
{
"data": {"values": [{"p": 156.062}]},
"mark": {"type": "text", "color": "#ffffff", "font": "DejaVu Sans", "fontSize": 15.5, "align": "center", "baseline": "middle", "dy": -1},
"encoding": {"x": {"datum": 945.75}, "y": {"field": "p", "type": "quantitative"}, "text": {"field": "p", "type": "quantitative", "format": ".3f"}}
},
{
"data": {"name": "levels"},
"mark": {"type": "point", "shape": "M-1,-0.284H1V0.284H-1Z", "size": 6400, "filled": true, "opacity": 1, "strokeWidth": 0, "yOffset": 4.5},
"encoding": {"x": {"datum": 945.75}, "y": {"field": "p", "type": "quantitative"}, "color": {"field": "name", "type": "nominal", "legend": null}}
},
{
"data": {"name": "levels"},
"mark": {"type": "text", "color": "#ffffff", "font": "DejaVu Sans", "fontSize": 15.5, "align": "center", "baseline": "middle", "dy": 4.5},
"encoding": {"x": {"datum": 945.75}, "y": {"field": "p", "type": "quantitative"}, "text": {"field": "p", "type": "quantitative", "format": ".3f"}}
},
{
"data": {"values": [{}]},
"mark": {"type": "text", "text": "USDJPY,M15\u00a0 156.009 156.072 156.007 156.062", "align": "left", "baseline": "alphabetic", "font": "Liberation Sans", "fontSize": 18.5, "color": "#000000"},
"encoding": {"x": {"datum": 6.875}, "y": {"datum": 156.794}}
},
{
"data": {"values": [{}]},
"mark": {"type": "point", "shape": "triangle-down", "size": 90, "filled": true, "color": "#000000", "opacity": 1},
"encoding": {"x": {"datum": 2}, "y": {"datum": 156.816}}
},
{
"data": {"values": [{}]},
"mark": {"type": "point", "shape": "triangle-down", "size": 160, "filled": true, "color": "#A0A0A0", "opacity": 1},
"encoding": {"x": {"datum": 467.1}, "y": {"datum": 156.858}}
},
{
"data": {"values": [{}]},
"mark": {"type": "point", "shape": "M-1,-1L-1,0.684L-0.579,0.263L-0.263,0.895L-0.053,0.789L-0.368,0.158L0.158,0.158Z", "size": 1369, "filled": true, "fill": "#ffffff", "stroke": "#000000", "strokeWidth": 1.5, "opacity": 1},
"encoding": {"x": {"datum": 47.375}, "y": {"datum": 154.965}}
}
]
}
